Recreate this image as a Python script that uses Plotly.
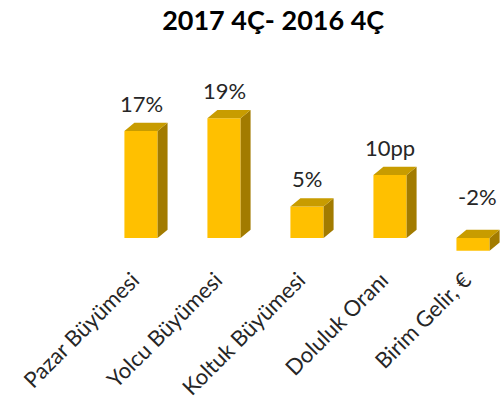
import plotly.graph_objects as go

title = "2017 4Ç- 2016 4Ç"
categories = ["Pazar Büyümesi", "Yolcu Büyümesi", "Koltuk Büyümesi", "Doluluk Oranı", "Birim Gelir, €"]
values = [17, 19, 5, 10, -2]
value_labels = ["17%", "19%", "5%", "10pp", "-2%"]

FRONT = "#FFC000"
TOP = "#C89C00"
SIDE = "#A27B00"
FONT = "Lato"

xs = list(range(len(categories)))
half_w = 0.2      # half bar width in category units
dx, dy = 0.12, 1.3  # 3D depth offset in data units

fig = go.Figure()

fig.add_trace(go.Bar(
    x=xs, y=values, width=2 * half_w, marker=dict(color=FRONT, line=dict(width=0)),
    hoverinfo="skip", showlegend=False,
))

side_x, side_y, top_x, top_y = [], [], [], []
for x, v in zip(xs, values):
    hi, lo = max(v, 0), min(v, 0)
    r = x + half_w
    l = x - half_w
    side_x += [r, r, r + dx, r + dx, r, None]
    side_y += [lo, hi, hi + dy, lo + dy, lo, None]
    top_x += [l, r, r + dx, l + dx, l, None]
    top_y += [hi, hi, hi + dy, hi + dy, hi, None]

fig.add_trace(go.Scatter(x=side_x, y=side_y, mode="lines", fill="toself", fillcolor=SIDE,
                         line=dict(width=0, color=SIDE), hoverinfo="skip", showlegend=False))
fig.add_trace(go.Scatter(x=top_x, y=top_y, mode="lines", fill="toself", fillcolor=TOP,
                         line=dict(width=0, color=TOP), hoverinfo="skip", showlegend=False))

for x, v, t in zip(xs, values, value_labels):
    fig.add_annotation(x=x, y=max(v, 0) + dy, text=t, showarrow=False,
                       yanchor="bottom", xanchor="center",
                       yshift=4 if v >= 0 else 18, xshift=0 if v >= 0 else 4,
                       font=dict(family=FONT, size=22, color="#262626"))

fig.update_layout(
    template="none",
    width=504, height=403,
    margin=dict(l=80, r=0, t=60, b=141),
    paper_bgcolor="white", plot_bgcolor="white",
    title=dict(text="<b>" + title + "</b>", x=0.542, xanchor="center", y=0.95, yanchor="middle",
               font=dict(family=FONT, size=27, color="#000000")),
    xaxis=dict(range=[-0.735, 4.373], tickvals=xs, ticktext=categories, tickangle=-45,
               showgrid=False, zeroline=False, showline=False, ticks="", automargin=False,
               ticklabelshift=-8,
               tickfont=dict(family=FONT, size=22, color="#262626")),
    yaxis=dict(range=[-3.8, 28.25], visible=False, showgrid=False, zeroline=False, automargin=False),
    font=dict(family=FONT),
)

fig.write_html("out.html", config={"displayModeBar": False, "staticPlot": True},
               post_script="document.body.style.margin='0';")
